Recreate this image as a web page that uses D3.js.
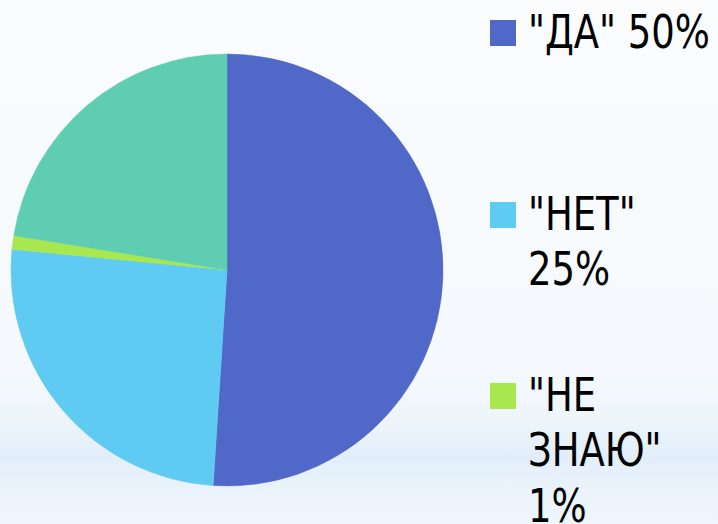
<!DOCTYPE html>
<html>
<head>
<meta charset="utf-8">
<script src="https://cdn.jsdelivr.net/npm/d3@7"></script>
<style>
  html, body { margin: 0; padding: 0; }
  svg { display: block; }
</style>
</head>
<body>
<div class="chart"></div>
<script>
var categories = ['"ДА" 50%', '"НЕТ" 25%', '"НЕ ЗНАЮ" 1%', ''];
var values = [50, 25, 1, 22];
var colors = ['#5068c7', '#5fcbf2', '#a9e74f', '#5ecdb1'];
// legend lines as they wrap in the picture
var legendLines = [['"ДА" 50%'], ['"НЕТ"', '25%'], ['"НЕ', 'ЗНАЮ"', '1%']];

document.addEventListener('DOMContentLoaded', function (event) {
  pieViz();
});

function pieViz() {
  var width = 718;
  var height = 524;
  var radius = 216;
  var cx = 227, cy = 270;

  var svg = d3.select('div.chart').append('svg')
      .attr('width', width)
      .attr('height', height);

  var grad = svg.append('defs').append('linearGradient')
      .attr('id', 'bg')
      .attr('x1', 0).attr('y1', 0).attr('x2', 0).attr('y2', 1);
  [[0, '#fafcfe'], [0.7, '#f5f9fd'], [0.8, '#eef5fb'], [0.87, '#e1eef9'],
   [0.92, '#e8f2fb'], [1, '#f0f6fd']].forEach(function (s) {
    grad.append('stop').attr('offset', s[0]).attr('stop-color', s[1]);
  });
  svg.append('rect')
    .attr('width', width)
    .attr('height', height)
    .attr('fill', 'url(#bg)');

  var data = categories.map(function (c, i) {
    return {label: c, value: values[i], color: colors[i]};
  });

  var pie = d3.pie().sort(null).value(d => d.value);
  var arc = d3.arc().innerRadius(0).outerRadius(radius);

  svg.append('g')
    .attr('transform', 'translate(' + cx + ',' + cy + ')')
    .selectAll('path')
    .data(pie(data))
    .enter().append('path')
    .attr('d', arc)
    .attr('fill', d => d.data.color)
    .attr('stroke', d => d.data.color)
    .attr('stroke-width', 0.5);

  var itemY = [20, 202, 383];
  var lineHeight = 55.5;
  var legend = svg.selectAll('g.legend')
      .data(legendLines)
      .enter().append('g')
      .attr('class', 'legend')
      .attr('transform', (d, i) => 'translate(490,' + itemY[i] + ')');

  legend.append('rect')
    .attr('width', 26)
    .attr('height', 26)
    .attr('fill', (d, i) => colors[i]);

  var texts = legend.append('g')
      .attr('transform', 'translate(38,28)')
    .append('text')
      .style('font-family', '"DejaVu Sans Condensed", "DejaVu Sans", sans-serif')
      .style('font-stretch', 'condensed')
      .style('font-size', '46px')
      .style('fill', '#000');

  texts.selectAll('tspan')
    .data(d => d)
    .enter().append('tspan')
    .attr('x', 0)
    .attr('dy', (d, i) => i === 0 ? 0 : lineHeight)
    .text(d => d);

  // squeeze the glyphs so the first line is as wide as in the picture
  var w = texts.node().getComputedTextLength();
  var sx = Math.min(1, 182 / w);
  texts.attr('transform', 'scale(' + sx + ',1)');
}
</script>
</body>
</html>
